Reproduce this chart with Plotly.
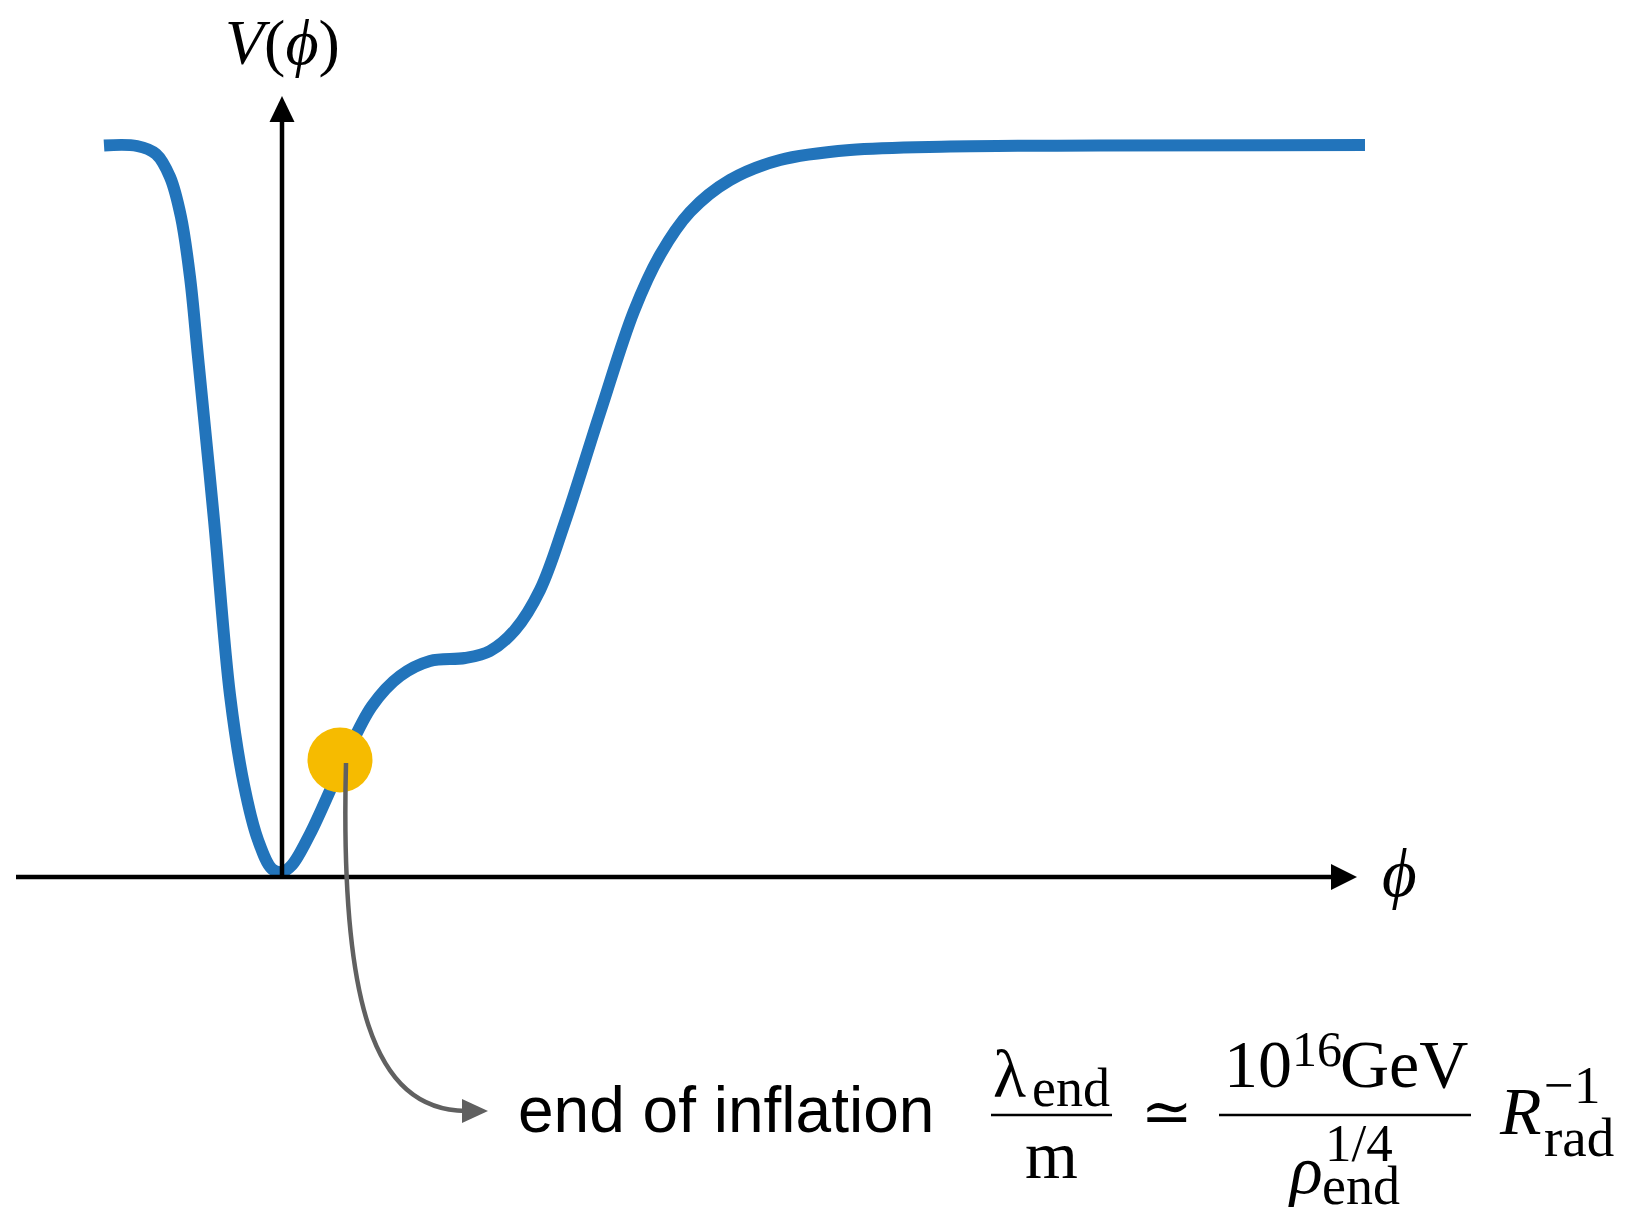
import plotly.graph_objects as go

# ---------------- data (axis units: phi, V) ----------------
phi = [-1.78, -1.45, -1.26, -1.12, -1.01, -0.92, -0.84, -0.68, -0.52, -0.38,
       -0.24, -0.10, 0.00, 0.10, 0.28, 0.62, 0.90, 1.18, 1.48, 1.83,
       2.08, 2.33, 2.58, 2.83, 3.18, 3.52, 3.78, 4.08, 4.48, 4.98,
       5.68, 6.68, 8.18, 10.83]
V = [7.315, 7.31, 7.23, 7.00, 6.60, 6.00, 5.20, 3.57, 1.82, 0.92,
     0.37, 0.08, 0.05, 0.12, 0.43, 1.17, 1.71, 2.01, 2.16, 2.19,
     2.26, 2.47, 2.87, 3.55, 4.64, 5.66, 6.22, 6.65, 6.97, 7.17,
     7.27, 7.305, 7.315, 7.32]

phi_end = [0.58]
V_end = [1.17]

y_label = "<i>V</i>(<i>ϕ</i>)"
x_label = "<i>ϕ</i>"
note_text = "end of inflation"

# ---------------- layout helpers (pixel -> axis units) ----------------
W, H = 1627, 1213
OX, OY, S = 282.0, 877.0, 100.0


def X(px):
    return (px - OX) / S


def Y(py):
    return (OY - py) / S


BLUE = "#2274bb"
GOLD = "#f6bb00"
GREY = "#606060"
SERIF = "Liberation Serif, Times New Roman, DejaVu Serif, serif"
SANS = "Liberation Sans, Arial, Helvetica, sans-serif"

fig = go.Figure()
fig.add_trace(go.Scatter(
    x=phi, y=V, mode="lines",
    line=dict(color=BLUE, width=12, shape="spline", smoothing=1.0,
              simplify=False),
    hoverinfo="skip", showlegend=False))
fig.add_trace(go.Scatter(
    x=phi_end, y=V_end, mode="markers",
    marker=dict(size=65, color=GOLD, line=dict(width=0)),
    hoverinfo="skip", showlegend=False))

shapes = []
# axes
shapes.append(dict(type="line", x0=X(16), x1=X(1334), y0=Y(877), y1=Y(877),
                   line=dict(color="black", width=4.5)))
shapes.append(dict(type="line", x0=X(282), x1=X(282), y0=Y(879), y1=Y(118),
                   line=dict(color="black", width=4.5)))
# arrow heads
shapes.append(dict(type="path",
                   path=f"M {X(1331)},{Y(864)} L {X(1357)},{Y(877)} L {X(1331)},{Y(890)} Z",
                   fillcolor="black", line=dict(width=0)))
shapes.append(dict(type="path",
                   path=f"M {X(269.5)},{Y(122)} L {X(282)},{Y(96)} L {X(294.5)},{Y(122)} Z",
                   fillcolor="black", line=dict(width=0)))
# grey connector
shapes.append(dict(type="path",
                   path=(f"M {X(346)},{Y(763)} C {X(340)},{Y(1000)} "
                         f"{X(372)},{Y(1110)} {X(466)},{Y(1111)}"),
                   line=dict(color=GREY, width=4.5)))
shapes.append(dict(type="path",
                   path=f"M {X(462)},{Y(1099)} L {X(488)},{Y(1111)} L {X(462)},{Y(1123)} Z",
                   fillcolor=GREY, line=dict(width=0)))
# fraction bars
shapes.append(dict(type="line", x0=X(991), x1=X(1112), y0=Y(1115), y1=Y(1115),
                   line=dict(color="black", width=2.5)))
shapes.append(dict(type="line", x0=X(1219), x1=X(1471), y0=Y(1115), y1=Y(1115),
                   line=dict(color="black", width=2.5)))

annotations = []


def txt(text, x, baseline, size, family=SERIF, xanchor="center", k=0.34):
    annotations.append(dict(
        text=text, x=X(x), y=Y(baseline - k * size), xref="x", yref="y",
        xanchor=xanchor, yanchor="middle", showarrow=False,
        font=dict(family=family, size=size, color="black")))


txt(y_label, 282, 64, 64)
txt(x_label, 1399, 896, 67)
txt(note_text, 516, 1132, 64, family=SANS, xanchor="left", k=0.35)

# formula pieces
txt("λ", 991, 1097, 68, xanchor="left")
txt("end", 1030, 1106, 54, xanchor="left")
txt("m", 1051, 1178, 68)
txt("≃", 1167, 1133, 62, family="DejaVu Serif, serif")
txt("10", 1222, 1087, 68, xanchor="left")
txt("16", 1290, 1066, 50, xanchor="left")
txt("GeV", 1338, 1087, 68, xanchor="left")
txt("<i>ρ</i>", 1286, 1193, 68, xanchor="left")
txt("1/4", 1359, 1161, 53)
txt("end", 1361, 1204, 54)
txt("<i>R</i>", 1497, 1134, 68, xanchor="left")
txt("−1", 1542, 1103, 53, xanchor="left")
txt("rad", 1542, 1156, 55, xanchor="left")

fig.update_layout(
    width=W, height=H,
    margin=dict(l=0, r=0, t=0, b=0),
    paper_bgcolor="white", plot_bgcolor="white",
    xaxis=dict(range=[X(0), X(W)], visible=False, fixedrange=True),
    yaxis=dict(range=[Y(H), Y(0)], visible=False, fixedrange=True),
    shapes=shapes, annotations=annotations, showlegend=False,
)

fig.write_html(
    "out.html",
    config={"displayModeBar": False, "staticPlot": True},
    post_script="document.body.style.margin='0';document.body.style.overflow='hidden';",
)
